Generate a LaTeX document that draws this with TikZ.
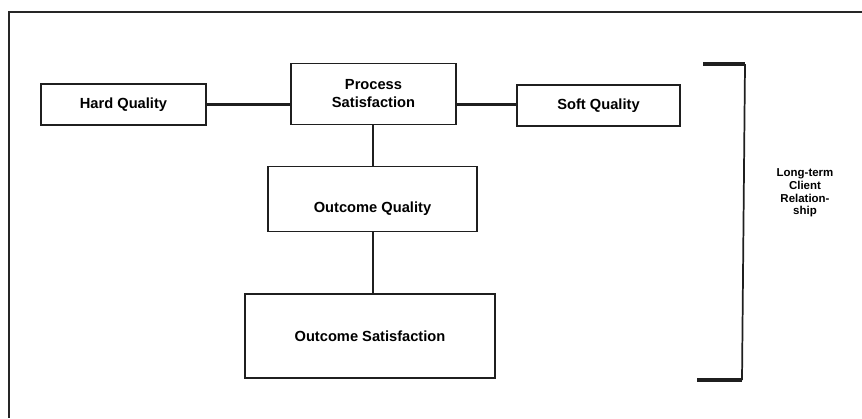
\documentclass[tikz,border=0pt]{standalone}
\usepackage{fontspec}
\setmainfont{Liberation Sans}
\begin{document}
\begin{tikzpicture}[x=0.75pt,y=-0.75pt,
  box/.style={draw=black!88,line width=1.3pt,rectangle,inner sep=0pt,
    align=center,font=\fontsize{11}{13.5}\selectfont\bfseries},
  sized/.style 2 args={minimum width=#1*0.75pt,minimum height=#2*0.75pt},
  lowtext/.style={text height=20pt,text depth=0pt},
  link/.style={draw=black!88,line width=1.3pt},
  heavylink/.style={draw=black!88,line width=2.4pt},
  frame/.style={draw=black!85,line width=1.2pt},
  bracket/.style={draw=black!88,line width=1.3pt},
  bracketend/.style={draw=black!88,line width=2.7pt}]
\useasboundingbox (0,0) rectangle (862,418);

% page frame: top rule and left rule
\coordinate (ftl) at (9,12);
\coordinate (ftr) at (862,12);
\coordinate (fbl) at (9,418);
\draw[frame] (ftr) -- (ftl) -- (fbl);

% boxes
\node[box,sized={165}{41}] (hard) at (123.5,104.5) {Hard Quality};
\node[box,sized={165}{61}] (proc) at (373.5,94) {Process\\Satisfaction};
\node[box,sized={163}{41}] (soft) at (598.5,105.5) {Soft Quality};
\node[box,sized={209}{65},lowtext] (oq) at (372.5,199) {Outcome Quality};
\node[box,sized={250}{84}] (os) at (370,336) {Outcome Satisfaction};

% connectors
\draw[heavylink] ([yshift=0.3pt]hard.east) -- ([yshift=0.3pt]hard.east -| proc.west);
\draw[heavylink] ([yshift=0.8pt]soft.west) -- ([yshift=0.8pt]soft.west -| proc.east);
\draw[link] ([xshift=-0.4pt]proc.south) -- ([xshift=-0.4pt]proc.south |- oq.north);
\draw[link] ([xshift=0.4pt]oq.south) -- ([xshift=0.4pt]oq.south |- os.north);

% bracket spanning the whole chain
\coordinate (bt1) at (703,64);
\coordinate (bt2) at (745,64);
\coordinate (bb2) at (742,380);
\coordinate (bb1) at (697,380);
\draw[bracketend] (bt1) -- (bt2);
\draw[bracketend] (bb1) -- (bb2);
\draw[bracket] (bt2) -- (bb2);

\node[align=center,font=\fontsize{8.6}{9.4}\selectfont\bfseries,inner sep=0pt] (ltcr) at (805,193)
  {Long-term\\Client\\Relation-\\ship};
\end{tikzpicture}
\end{document}
